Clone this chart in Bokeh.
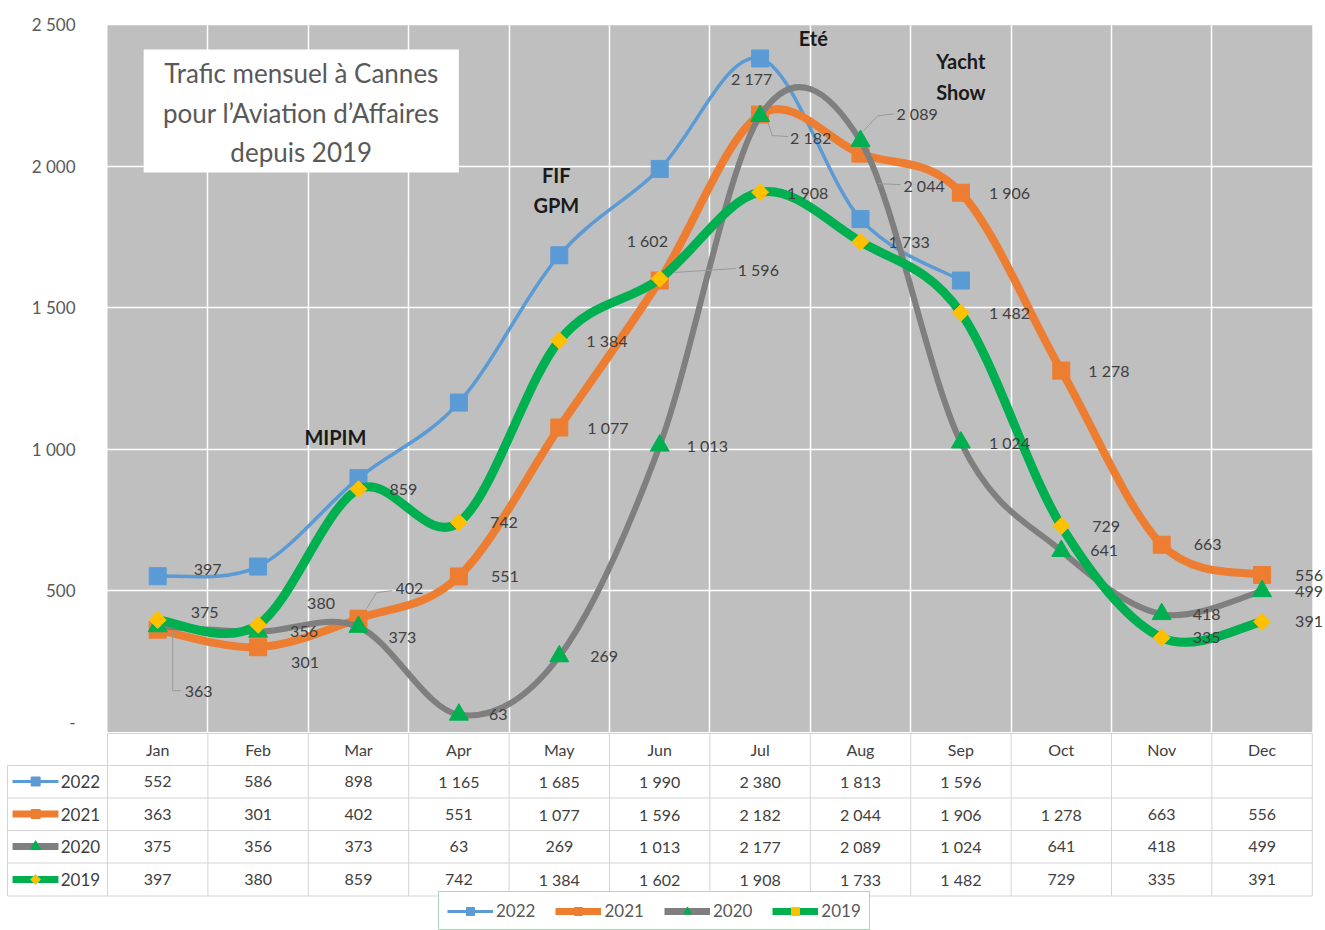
import numpy as np
from bokeh.plotting import figure
from bokeh.layouts import column
from bokeh.models import Range1d, FixedTicker, BoxAnnotation, Legend, LegendItem
from bokeh.core.properties import value
from bokeh.embed import file_html
from bokeh.resources import INLINE

# ---------------- data ----------------
months = ["Jan", "Feb", "Mar", "Apr", "May", "Jun", "Jul", "Aug", "Sep", "Oct", "Nov", "Dec"]
years = ["2022", "2021", "2020", "2019"]
v2022 = [552, 586, 898, 1165, 1685, 1990, 2380, 1813, 1596]
v2021 = [363, 301, 402, 551, 1077, 1596, 2182, 2044, 1906, 1278, 663, 556]
v2020 = [375, 356, 373, 63, 269, 1013, 2177, 2089, 1024, 641, 418, 499]
v2019 = [397, 380, 859, 742, 1384, 1602, 1908, 1733, 1482, 729, 335, 391]
y_ticks = [0, 500, 1000, 1500, 2000, 2500]
y_tick_labels = ["-", "500", "1 000", "1 500", "2 000", "2 500"]
title_lines = ["Trafic mensuel à Cannes", "pour l\u2019Aviation d\u2019Affaires", "depuis 2019"]
events = ["MIPIM", "FIF", "GPM", "Eté", "Yacht", "Show"]

# label placement (pixel offsets from each point) - styling only
lab_dx = {
    "2021": [27, 33, 37, 32, 28, 78, 30, 43, 28, 27, 32, 33],
    "2020": [33, 32, 30, 30, 31, 27, -29, 36, 28, 29, 31, 33],
    "2019": [36, 49, 31, 31, 27, -33, 27, 28, 28, 31, 31, 33],
}
lab_dy = {
    "2021": [62, 15, -30, 0, 0, -11, 23, 32, 0, 0, 0, 0],
    "2020": [-14, 0, 11, 0, 0, 0, -37, -27, 0, 0, 0, 0],
    "2019": [-51, -21, 0, 0, 0, -38, 0, 0, 0, 0, 0, 0],
}
# leader lines: (series, month index, pixel path relative to the point, y down)
leaders = [
    ("2021", 0, [(15, 2), (15, 61), (23, 61)]),
    ("2021", 2, [(8, -10), (18, -26), (34, -28)]),
    ("2021", 5, [(14, -8), (76, -12)]),
    ("2021", 6, [(8, 8), (12, 21), (28, 22)]),
    ("2021", 7, [(18, 30), (40, 31)]),
    ("2020", 7, [(3, -10), (17, -25), (33, -27)]),
]
event_x = [1.77, 3.97, 3.97, 6.53, 8.0, 8.0]
event_y = [1045, 1967, 1861, 2451, 2370, 2260]

FONT = "Lato"
TXT = "#404040"

styles = {
    "2022": dict(vals=v2022, line="#5B9BD5", lw=3.5, marker="square", mcol="#5B9BD5", size=17, angle=0.0,
                 klw=3, ksize=9),
    "2021": dict(vals=v2021, line="#ED7D31", lw=8, marker="square", mcol="#ED7D31", size=17, angle=0.0,
                 klw=7, ksize=9),
    "2020": dict(vals=v2020, line="#7F7F7F", lw=6, marker="triangle", mcol="#00B050", size=19, angle=0.0,
                 klw=7, ksize=10),
    "2019": dict(vals=v2019, line="#00B050", lw=9, marker="square", mcol="#FFC000", size=12, angle=np.pi / 4,
                 klw=7, ksize=7),
}


def fmt(v):
    return f"{v:,}".replace(",", " ")


def smooth_controls(vals):
    """Bezier control points (Catmull-Rom style, as Excel's smoothed line)."""
    y = np.asarray(vals, dtype=float)
    x = np.arange(len(y), dtype=float)
    n = len(y)
    i = np.arange(n - 1)
    im1 = np.maximum(i - 1, 0)
    ip2 = np.minimum(i + 2, n - 1)
    cx0 = x[i] + (x[i + 1] - x[im1]) / 6
    cy0 = y[i] + (y[i + 1] - y[im1]) / 6
    cx1 = x[i + 1] - (x[ip2] - x[i]) / 6
    cy1 = y[i + 1] - (y[ip2] - y[i]) / 6
    return dict(x0=x[i], y0=y[i], x1=x[i + 1], y1=y[i + 1], cx0=cx0, cy0=cy0, cx1=cx1, cy1=cy1)


W = 1325
PXX = 100.4           # pixels per month
PXY = 732 / 2584.7    # pixels per unit of traffic
XL = -1.5657          # x value at left page edge
XR = XL + W / PXX     # x value at right page edge

# ---------------- main chart ----------------
p = figure(width=W, height=732, x_range=Range1d(XL, XR), y_range=Range1d(0, 2584.7),
           output_backend="svg", toolbar_location=None,
           min_border_left=0, min_border_right=0, min_border_top=0, min_border_bottom=0)
p.outline_line_color = None
p.background_fill_color = "white"
p.border_fill_color = "white"
p.add_layout(BoxAnnotation(left=-0.5, right=11.5, bottom=0, top=2500, fill_color="#BFBFBF",
                           fill_alpha=1, line_color=None, level="image"))
p.xaxis.visible = False
p.xgrid.ticker = FixedTicker(ticks=[i + 0.5 for i in range(11)])
p.ygrid.ticker = FixedTicker(ticks=y_ticks[1:])
for g in (p.xgrid, p.ygrid):
    g.grid_line_color = "white"
    g.grid_line_width = 1.5
    g.grid_line_alpha = 1

ax = p.yaxis[0]
ax.fixed_location = -0.5
ax.ticker = FixedTicker(ticks=y_ticks)
ax.major_label_overrides = {t: l for t, l in zip(y_ticks, y_tick_labels)}
ax.axis_line_color = None
ax.major_tick_line_color = None
ax.minor_tick_line_color = None
ax.major_tick_out = 0
ax.major_tick_in = 0
ax.major_label_standoff = 32
ax.major_label_text_font = FONT
ax.major_label_text_font_size = "17px"
ax.major_label_text_color = "#595959"

# title box
p.quad(left=[-0.14], right=[3.0], bottom=[1977], top=[2412], fill_color="white", line_color=None)
p.text(x=[1.43] * 3, y=[2327, 2189, 2048], text=title_lines, text_align="center",
       text_baseline="middle", text_font=value(FONT), text_font_size="26px", text_color="#595959")

# events
p.text(x=event_x, y=event_y, text=events, text_align="center", text_baseline="middle",
       text_font=value(FONT), text_font_style="bold", text_font_size="20px", text_color="#1A1A1A")

for yr in years:
    s = styles[yr]
    c = smooth_controls(s["vals"])
    p.bezier(line_color=s["line"], line_width=s["lw"], line_cap="round", line_join="round", source=c,
             x0="x0", y0="y0", x1="x1", y1="y1", cx0="cx0", cy0="cy0", cx1="cx1", cy1="cy1")
    p.scatter(x=list(range(len(s["vals"]))), y=s["vals"], marker=s["marker"], size=s["size"],
              angle=s["angle"], fill_color=s["mcol"], line_color=s["mcol"])

# leader lines from points to displaced labels
lxs, lys = [], []
for yr, i, path in leaders:
    v = styles[yr]["vals"][i]
    lxs.append([i + dx / PXX for dx, dy in path])
    lys.append([v - dy / PXY for dx, dy in path])
p.multi_line(xs=lxs, ys=lys, line_color="#9A9A9A", line_width=1)

for yr in ["2021", "2020", "2019"]:
    vals = styles[yr]["vals"]
    p.text(x=list(range(len(vals))), y=vals, text=[fmt(v) for v in vals],
           x_offset=lab_dx[yr], y_offset=lab_dy[yr], text_align="left", text_baseline="middle",
           text_font=value(FONT), text_font_size="16px", text_color=TXT)

# ---------------- data table ----------------
t = figure(width=W, height=198, x_range=Range1d(XL, XR), y_range=Range1d(198, 0),
           output_backend="svg", toolbar_location=None, x_axis_location=None, y_axis_location=None,
           min_border_left=0, min_border_right=0, min_border_top=0, min_border_bottom=0)
t.outline_line_color = None
t.grid.visible = False
t.background_fill_color = "white"
t.border_fill_color = "white"

TL = XL + 0.07   # table's left edge
row_edges = [33, 65.5, 98, 130.5, 163.5]
row_centers = [49, 81.5, 114, 147]
col_edges = [i - 0.5 for i in range(13)]
gl = "#D4D4D4"
t.segment(x0=[-0.5], y0=[1], x1=[11.5], y1=[1], line_color=gl, line_width=1)
t.segment(x0=[TL] * len(row_edges), y0=row_edges, x1=[11.5] * len(row_edges), y1=row_edges,
          line_color=gl, line_width=1)
t.segment(x0=col_edges, y0=[1] * len(col_edges), x1=col_edges, y1=[163.5] * len(col_edges),
          line_color=gl, line_width=1)
t.segment(x0=[TL], y0=[33], x1=[TL], y1=[163.5], line_color=gl, line_width=1)

t.text(x=list(range(12)), y=[17] * 12, text=months, text_align="center", text_baseline="middle",
       text_font=value(FONT), text_font_size="16px", text_color=TXT)

legend_items = []
for yr, ry in zip(years, row_centers):
    s = styles[yr]
    vals = s["vals"]
    t.text(x=list(range(len(vals))), y=[ry] * len(vals), text=[fmt(v) for v in vals],
           text_align="center", text_baseline="middle", text_font=value(FONT),
           text_font_size="16px", text_color=TXT)
    kl = t.line(x=[XL + 0.12, XL + 0.577], y=[ry, ry], line_color=s["line"], line_width=s["klw"])
    ks = t.scatter(x=[XL + 0.35], y=[ry], marker=s["marker"], size=s["ksize"], angle=s["angle"],
                   fill_color=s["mcol"], line_color=s["mcol"])
    legend_items.append(LegendItem(label=yr, renderers=[kl, ks]))

t.text(x=[XL + 0.6] * 4, y=row_centers, text=years, text_align="left", text_baseline="middle",
       text_font=value(FONT), text_font_size="17px", text_color=TXT)

legend = Legend(items=legend_items, orientation="horizontal", location=(438, 0),
                glyph_width=46, glyph_height=20, label_standoff=3, spacing=20, padding=8, margin=0,
                border_line_color="#5EAE75", border_line_width=1.5, background_fill_color="white",
                background_fill_alpha=1, label_text_font=FONT, label_text_font_size="17px",
                label_text_color="#595959")
t.add_layout(legend, "center")

layout = column(p, t, spacing=0)
open("out.html", "w").write(file_html(layout, INLINE))
